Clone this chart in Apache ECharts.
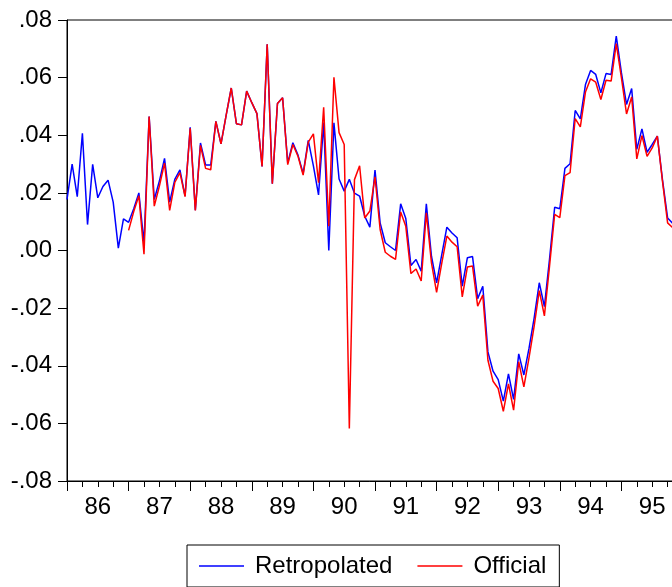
<!DOCTYPE html>
<html>
<head>
<meta charset="utf-8">
<script src="https://cdn.jsdelivr.net/npm/echarts@6/dist/echarts.min.js"></script>
<style>
  html, body { margin: 0; padding: 0; background: #fff; }
  #chart { width: 672px; height: 587px; }
</style>
</head>
<body>
<div id="chart"></div>
<script>
// year labels, one per 12 months starting 1986M01
const years = ["86", "87", "88", "89", "90", "91", "92", "93", "94", "95"];

// monthly values, 1986M01 .. 1995M12
const retropolated = [
    0.0177, 0.030, 0.0187, 0.0407, 0.009, 0.0299, 0.0183, 0.0222, 0.0244, 0.0168, 0.0008, 0.011,
    0.0098, 0.0145, 0.020, 0.0026, 0.0465, 0.0177, 0.0241, 0.032, 0.0168, 0.0247, 0.028, 0.0189,
    0.0428, 0.014, 0.0373, 0.0297, 0.0297, 0.0448, 0.037, 0.0469, 0.0564, 0.044, 0.0436, 0.0553,
    0.0513, 0.0475, 0.0292, 0.0716, 0.0232, 0.051, 0.053, 0.0304, 0.0374, 0.0331, 0.0267, 0.0382,
    0.0294, 0.0193, 0.0444, 0.0, 0.0443, 0.0248, 0.0206, 0.0247, 0.0199, 0.0189, 0.0119, 0.0081,
    0.0279, 0.0096, 0.0027, 0.0013, 0.0, 0.0162, 0.0111, -0.0052, -0.0031, -0.0072, 0.0162, -0.002,
    -0.0112, -0.0015, 0.0081, 0.0061, 0.0044, -0.0124, -0.0025, -0.0021, -0.0167, -0.0124, -0.0352, -0.0419,
    -0.0448, -0.0523, -0.0428, -0.0517, -0.0359, -0.0432, -0.034, -0.0235, -0.0112, -0.0195, -0.003, 0.015,
    0.0145, 0.0285, 0.0301, 0.0486, 0.0457, 0.0576, 0.0625, 0.0611, 0.0547, 0.0614, 0.0611, 0.0744,
    0.0617, 0.0507, 0.0562, 0.0351, 0.0422, 0.0341, 0.0368, 0.0397, 0.0246, 0.0113, 0.0094, 0.007
];

// official series starts in 1987M01
const officialStart = 12;
const official = [
    0.007, 0.0135, 0.019, -0.0013, 0.0465, 0.0154, 0.0224, 0.0303, 0.0139, 0.0236, 0.027, 0.0187,
    0.0424, 0.0139, 0.0365, 0.0285, 0.028, 0.0448, 0.037, 0.0469, 0.0564, 0.044, 0.0436, 0.0553,
    0.0513, 0.0475, 0.0292, 0.0716, 0.0232, 0.051, 0.053, 0.0298, 0.0368, 0.0327, 0.0262, 0.0376,
    0.0405, 0.0235, 0.0497, 0.0084, 0.0601, 0.0409, 0.0368, -0.0618, 0.0246, 0.0294, 0.0113, 0.0137,
    0.0256, 0.0073, -0.0006, -0.002, -0.0031, 0.0134, 0.0084, -0.008, -0.0064, -0.0106, 0.0131, -0.0043,
    -0.0145, -0.0045, 0.005, 0.0029, 0.0013, -0.0161, -0.0057, -0.0054, -0.0193, -0.0155, -0.0381, -0.0454,
    -0.0479, -0.0558, -0.0463, -0.0554, -0.0386, -0.0473, -0.0373, -0.0263, -0.0139, -0.0227, -0.0054, 0.0125,
    0.0114, 0.026, 0.027, 0.0458, 0.0429, 0.055, 0.0596, 0.0584, 0.0524, 0.0591, 0.0588, 0.0718,
    0.060, 0.0474, 0.0533, 0.0318, 0.0399, 0.0327, 0.0356, 0.0397, 0.0241, 0.0096, 0.0079, 0.006
];

const font = "'Liberation Sans', Arial, sans-serif";

const fmtY = v => {
    if (Math.abs(v) < 1e-9) return ".00";
    return v.toFixed(2).replace("0.", ".");
};

// year label sits in the middle of its 12-month band
const fmtX = v => (v < 120 ? years[Math.round(v / 12)] : "");

const chart = echarts.init(document.getElementById("chart"));

const option = {
    animation: false,
    grid: {
        left: 67, top: 20, width: 616, height: 461, outerBoundsMode: "none",
        show: true, borderColor: "#000", borderWidth: 1
    },
    legend: {
        left: 187, top: 545,
        padding: [9, 13, 9, 12],
        itemGap: 25, itemWidth: 45, itemHeight: 1.5,
        icon: "rect",
        borderColor: "#000", borderWidth: 1,
        textStyle: { fontSize: 24, color: "#000", fontFamily: font, padding: [0, 0, 0, 6] },
        data: ["Retropolated", "Official"]
    },
    xAxis: {
        type: "value", min: 0, max: 120, interval: 12,
        axisLine: { show: true, onZero: false, lineStyle: { color: "#000" } },
        axisTick: { show: true, length: 10, lineStyle: { color: "#000", width: 1 } },
        minorTick: { show: true, splitNumber: 4, length: 6, lineStyle: { color: "#000", width: 1 } },
        axisLabel: {
            show: true, fontSize: 24, color: "#000", margin: 14, fontFamily: font,
            padding: [0, 0, 0, 61.6], formatter: fmtX
        },
        splitLine: { show: false }
    },
    yAxis: {
        type: "value", min: -0.08, max: 0.08, interval: 0.02,
        axisLine: { show: true, onZero: false, lineStyle: { color: "#000" } },
        axisTick: { show: true, length: 9, lineStyle: { color: "#000", width: 1 } },
        axisLabel: { fontSize: 24, color: "#000", margin: 15, formatter: fmtY, fontFamily: font },
        splitLine: { show: false }
    },
    series: [
        {
            name: "Retropolated", type: "line", showSymbol: false,
            lineStyle: { color: "#0000ff", width: 1.5 },
            itemStyle: { color: "#0000ff" },
            data: retropolated.map((v, i) => [i, v])
        },
        {
            name: "Official", type: "line", showSymbol: false,
            lineStyle: { color: "#ff0000", width: 1.5 },
            itemStyle: { color: "#ff0000" },
            data: official.map((v, i) => [officialStart + i, v])
        }
    ]
};

chart.setOption(option);
window.addEventListener("resize", () => chart.resize());
</script>
</body>
</html>
